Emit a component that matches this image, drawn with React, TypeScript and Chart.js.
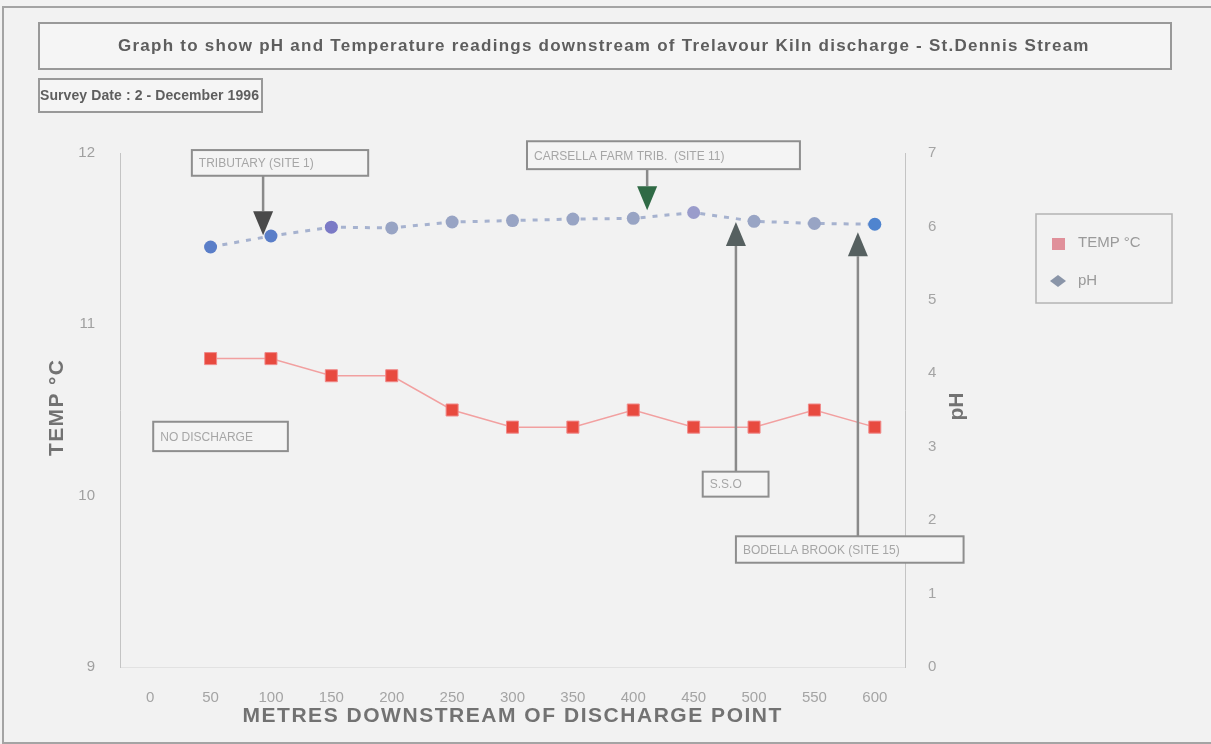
import React, { useEffect, useRef } from 'react';
import { Chart, registerables } from 'chart.js';

Chart.register(...registerables);

// ---------- data ----------
const distances = ['0', '50', '100', '150', '200', '250', '300', '350', '400', '450', '500', '550', '600'];
const tempValues = [null, 10.8, 10.8, 10.7, 10.7, 10.5, 10.4, 10.4, 10.5, 10.4, 10.4, 10.5, 10.4];
const phValues = [null, 5.72, 5.87, 5.99, 5.98, 6.06, 6.08, 6.1, 6.11, 6.19, 6.07, 6.04, 6.03];
const seriesLabels = ['TEMP °C', 'pH'];
const chartTitle = 'Graph to show pH and Temperature readings downstream of Trelavour Kiln discharge - St.Dennis Stream';
const surveyText = 'Survey Date : 2 - December 1996';
const xTitle = 'METRES DOWNSTREAM OF DISCHARGE POINT';
const yTitle = 'TEMP °C';
const y1Title = 'pH';
const noteTexts = ['TRIBUTARY (SITE 1)', 'CARSELLA FARM TRIB.  (SITE 11)', 'NO DISCHARGE', 'S.S.O', 'BODELLA BROOK (SITE 15)'];

// ---------- layout (in category-index / pH units) ----------
const W = 1211;
const H = 744;
const FONT = '"Liberation Sans", Arial, sans-serif';
const noteLayout = [
  { x0: 0.69, x1: 3.61, y0: 7.04, y1: 6.69, arrow: { x: 1.87, tip: 5.88, head: '#4a4a4a' } },
  { x0: 6.24, x1: 10.76, y0: 7.16, y1: 6.78, arrow: { x: 8.23, tip: 6.22, head: '#2f6a45' } },
  { x0: 0.05, x1: 2.28, y0: 3.34, y1: 2.94, arrow: null },
  { x0: 9.15, x1: 10.24, y0: 2.66, y1: 2.32, arrow: { x: 9.7, tip: 6.06, head: '#566060' } },
  { x0: 9.7, x1: 13.47, y0: 1.78, y1: 1.42, arrow: { x: 11.72, tip: 5.92, head: '#566060' } },
];

const phPointColors = ['#5a7ec8', '#5a7ec8', '#5a7ec8', '#7b7ac6', '#98a4c4', '#98a4c4', '#98a4c4', '#98a4c4', '#98a4c4', '#9a9ccb', '#98a4c4', '#98a4c4', '#4f84cf'];

// draws text at a given font size, spreading letters so it spans `target` px
function spacedText(ctx: CanvasRenderingContext2D, text: string, x: number, y: number, size: number, weight: string, target: number, align: 'left' | 'center') {
  ctx.font = `${weight} ${size}px ${FONT}`;
  const c: any = ctx;
  c.letterSpacing = '0px';
  const w = ctx.measureText(text).width;
  const n = Math.max(1, text.length - 1);
  const sp = Math.max(0, (target - w) / n);
  c.letterSpacing = `${sp.toFixed(2)}px`;
  ctx.textAlign = 'left';
  const startX = align === 'center' ? x - target / 2 : x;
  ctx.fillText(text, startX, y);
  c.letterSpacing = '0px';
}

const decor = {
  id: 'decor',
  beforeDraw(chart: any) {
    const ctx = chart.ctx as CanvasRenderingContext2D;
    ctx.save();
    ctx.fillStyle = '#f2f2f2';
    ctx.fillRect(0, 0, W, H);
    ctx.strokeStyle = '#a4a4a4';
    ctx.lineWidth = 2;
    ctx.strokeRect(3, 7, W + 10, H - 8);
    ctx.restore();
  },
  afterDraw(chart: any) {
    const ctx = chart.ctx as CanvasRenderingContext2D;
    const xs = chart.scales.x;
    const ys = chart.scales.y1;
    ctx.save();
    ctx.textBaseline = 'middle';

    // title box
    ctx.fillStyle = '#f5f5f5';
    ctx.fillRect(39, 23, 1132, 46);
    ctx.strokeStyle = '#999999';
    ctx.lineWidth = 2;
    ctx.strokeRect(39, 23, 1132, 46);
    ctx.fillStyle = '#5e5e5e';
    spacedText(ctx, chartTitle, 603, 46, 17, 'bold', 970, 'center');

    // survey box
    ctx.fillStyle = '#f5f5f5';
    ctx.fillRect(39, 79, 223, 33);
    ctx.strokeRect(39, 79, 223, 33);
    ctx.fillStyle = '#5e5e5e';
    spacedText(ctx, surveyText, 40, 96, 14, 'bold', 219, 'left');

    // axis titles
    ctx.fillStyle = '#727272';
    spacedText(ctx, xTitle, 512, 716, 21, 'bold', 539, 'center');

    ctx.save();
    ctx.translate(57, 408);
    ctx.rotate(-Math.PI / 2);
    spacedText(ctx, yTitle, 0, 0, 21, 'bold', 96, 'center');
    ctx.restore();

    ctx.save();
    ctx.translate(957, 407);
    ctx.rotate(-Math.PI / 2);
    spacedText(ctx, y1Title, 0, 0, 21, 'bold', 27, 'center');
    ctx.restore();

    // annotations
    noteLayout.forEach((n, i) => {
      const left = xs.getPixelForValue(n.x0);
      const right = xs.getPixelForValue(n.x1);
      const top = ys.getPixelForValue(n.y0);
      const bottom = ys.getPixelForValue(n.y1);
      if (n.arrow) {
        const ax = xs.getPixelForValue(n.arrow.x);
        const tip = ys.getPixelForValue(n.arrow.tip);
        const down = tip > bottom;
        const start = down ? bottom : top;
        const headLen = 24;
        const baseY = down ? tip - headLen : tip + headLen;
        ctx.strokeStyle = '#8a8a8a';
        ctx.lineWidth = 2.5;
        ctx.beginPath();
        ctx.moveTo(ax, start);
        ctx.lineTo(ax, baseY);
        ctx.stroke();
        ctx.fillStyle = n.arrow.head;
        ctx.beginPath();
        ctx.moveTo(ax, tip);
        ctx.lineTo(ax - 10, baseY);
        ctx.lineTo(ax + 10, baseY);
        ctx.closePath();
        ctx.fill();
      }
      ctx.fillStyle = '#f4f4f4';
      ctx.fillRect(left, top, right - left, bottom - top);
      ctx.strokeStyle = '#8e8e8e';
      ctx.lineWidth = 2;
      ctx.strokeRect(left, top, right - left, bottom - top);
      ctx.fillStyle = '#a6a6a6';
      ctx.font = `12px ${FONT}`;
      ctx.textAlign = 'left';
      ctx.textBaseline = 'middle';
      ctx.fillText(noteTexts[i], left + 7, (top + bottom) / 2 + 1);
    });

    // legend
    const lx = 1036, ly = 214, lw = 136, lh = 89;
    ctx.strokeStyle = '#b4b4b4';
    ctx.lineWidth = 1.5;
    ctx.strokeRect(lx, ly, lw, lh);
    const ds = chart.data.datasets;
    ctx.font = `15px ${FONT}`;
    ctx.textAlign = 'left';
    ctx.textBaseline = 'middle';
    ctx.fillStyle = '#e0909a';
    ctx.fillRect(1052, 238, 13, 12);
    ctx.fillStyle = '#9a9a9a';
    ctx.fillText(ds[0].label, 1078, 243);
    ctx.fillStyle = '#8a95a8';
    ctx.beginPath();
    ctx.moveTo(1050, 281);
    ctx.lineTo(1058, 275);
    ctx.lineTo(1066, 281);
    ctx.lineTo(1058, 287);
    ctx.closePath();
    ctx.fill();
    ctx.fillStyle = '#9a9a9a';
    ctx.fillText(ds[1].label, 1078, 281);

    ctx.restore();
  },
};

export default function App() {
  const ref = useRef<HTMLCanvasElement | null>(null);

  useEffect(() => {
    document.body.style.margin = '0';
    document.body.style.background = '#f2f2f2';
    const canvas = ref.current;
    if (!canvas) return;
    const tickFont = { family: FONT, size: 15 };
    const chart = new Chart(canvas, {
      type: 'line',
      data: {
        labels: distances,
        datasets: [
          {
            label: seriesLabels[0],
            data: tempValues,
            yAxisID: 'y',
            borderColor: '#f2a0a0',
            borderWidth: 1.5,
            pointStyle: 'rect',
            pointRadius: 8.5,
            pointBackgroundColor: '#e84a3f',
            pointBorderColor: '#f08a8a',
            pointBorderWidth: 1,
            tension: 0,
          },
          {
            label: seriesLabels[1],
            data: phValues,
            yAxisID: 'y1',
            borderColor: '#a6b2cf',
            borderWidth: 3,
            borderDash: [5, 7],
            pointStyle: 'circle',
            pointRadius: 6.5,
            pointBackgroundColor: phPointColors,
            pointBorderColor: phPointColors,
            pointBorderWidth: 0,
            tension: 0,
          },
        ],
      },
      options: {
        responsive: false,
        animation: false,
        events: [],
        layout: { padding: { top: 153, left: 0, right: 0, bottom: 0 } },
        plugins: {
          legend: { display: false },
          tooltip: { enabled: false },
          title: { display: false },
        },
        scales: {
          x: {
            type: 'category',
            offset: true,
            grid: { display: false },
            border: { display: true, color: '#e2e2e2', width: 1 },
            ticks: { color: '#a4a4a4', font: tickFont, padding: 14, maxRotation: 0, autoSkip: false },
            afterFit: (s: any) => { s.height = H - 667; },
          },
          y: {
            position: 'left',
            min: 9,
            max: 12,
            grid: { display: false },
            border: { display: true, color: '#c4c4c4', width: 1 },
            ticks: { stepSize: 1, color: '#a0a0a0', font: tickFont, padding: 17 },
            afterFit: (s: any) => { s.width = 120; },
          },
          y1: {
            position: 'right',
            min: 0,
            max: 7,
            grid: { display: false },
            border: { display: true, color: '#c4c4c4', width: 1 },
            ticks: { stepSize: 1, color: '#a4a4a4', font: tickFont, padding: 15 },
            afterFit: (s: any) => { s.width = W - 905; },
          },
        },
      },
      plugins: [decor],
    });
    return () => chart.destroy();
  }, []);

  return (
    <div style={{ width: W, height: H }}>
      <canvas ref={ref} width={W} height={H} style={{ display: 'block' }} />
    </div>
  );
}
